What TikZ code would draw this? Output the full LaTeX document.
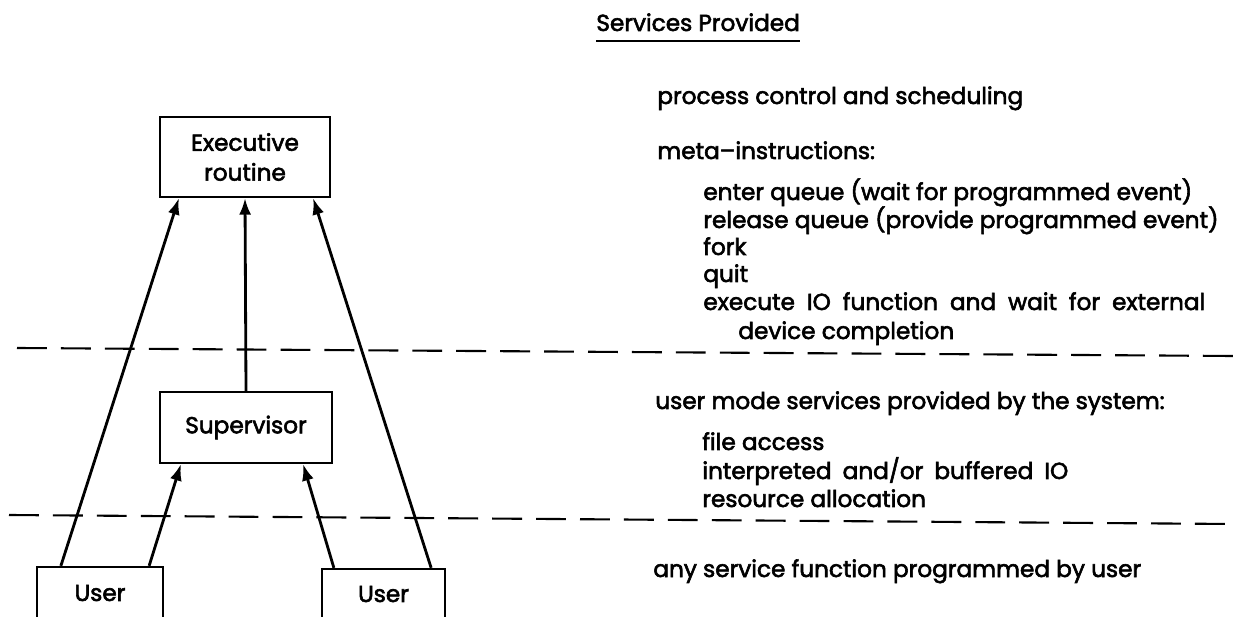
\documentclass[tikz,border=0pt]{standalone}
\usepackage{fontspec}
\setmainfont{Poppins}[UprightFeatures={FakeBold=2.5}]
\usetikzlibrary{arrows.meta}

\begin{document}
\begin{tikzpicture}[x=0.02cm, y=-0.02cm, every node/.style={font=\fontsize{13.2}{17}\selectfont}, >={Latex[length=3.3mm, width=2.4mm]},
	box/.style={draw, line width=1.3pt, align=center},
	uplink/.style={->, line width=1.6pt},
	txt/.style={anchor=base west, inner sep=0pt},
	divider/.style={dash pattern=on 17pt off 8pt, line width=1.2pt}]
	\clip (0,0) rectangle (1233,617);
	\node[box, minimum width=3.4cm, minimum height=1.6cm] (exec) at (245,157) {Executive\\routine};
	\node[box, minimum width=3.44cm, minimum height=1.42cm] (sup) at (246,427.5) {Supervisor};
	\node[box, minimum width=2.52cm, minimum height=1.04cm] (u1) at (100,593) {User};
	\node[box, minimum width=2.46cm, minimum height=1.0cm] (u2) at (383.5,594) {User};
	\draw[uplink] ([xshift=0.5cm]u1.north west) -- ([xshift=0.4cm]exec.south west);
	\draw[uplink] ([xshift=-0.3cm]u1.north east) -- ([xshift=0.44cm]sup.south west);
	\draw[uplink] ([xshift=0.26cm]u2.north west) -- ([xshift=-0.6cm]sup.south east);
	\draw[uplink] ([xshift=-0.3cm]u2.north east) -- ([xshift=-0.36cm]exec.south east);
	\draw[uplink] (sup.north) -- (exec.south);
	\draw[divider] (17,348) -- (1233,356);
	\draw[divider] (9,515) -- (1233,524);
	% services column
	\node[txt] (title) at (596,31) {Services Provided};
	\draw[line width=1.3pt] ([yshift=-0.2cm]title.base west) -- ([yshift=-0.2cm]title.base east);
	\node[txt] (proc) at (657,104) {process control and scheduling};
	\node[txt] (meta) at (657,159) {meta--instructions:};
	\node[txt] (enter) at (703,200) {enter queue (wait for programmed event)};
	\node[txt] (release) at (703,228) {release queue (provide programmed event)};
	\node[txt] (fork) at (703,255) {fork};
	\node[txt] (quit) at (703,282) {quit};
	\node[txt] (exio) at (703,310) {\hbox to 10.04cm{execute IO function and wait for external}};
	\node[txt] (device) at (738,339) {device completion};
	\node[txt] (usermode) at (655,409) {user mode services provided by the system:};
	\node[txt] (file) at (702,450) {file access};
	\node[txt] (interp) at (702,479) {\hbox to 7.32cm{interpreted and/or buffered IO}};
	\node[txt] (resource) at (702,507) {resource allocation};
	\node[txt] (any) at (653,577) {any service function programmed by user};
\end{tikzpicture}
\end{document}
